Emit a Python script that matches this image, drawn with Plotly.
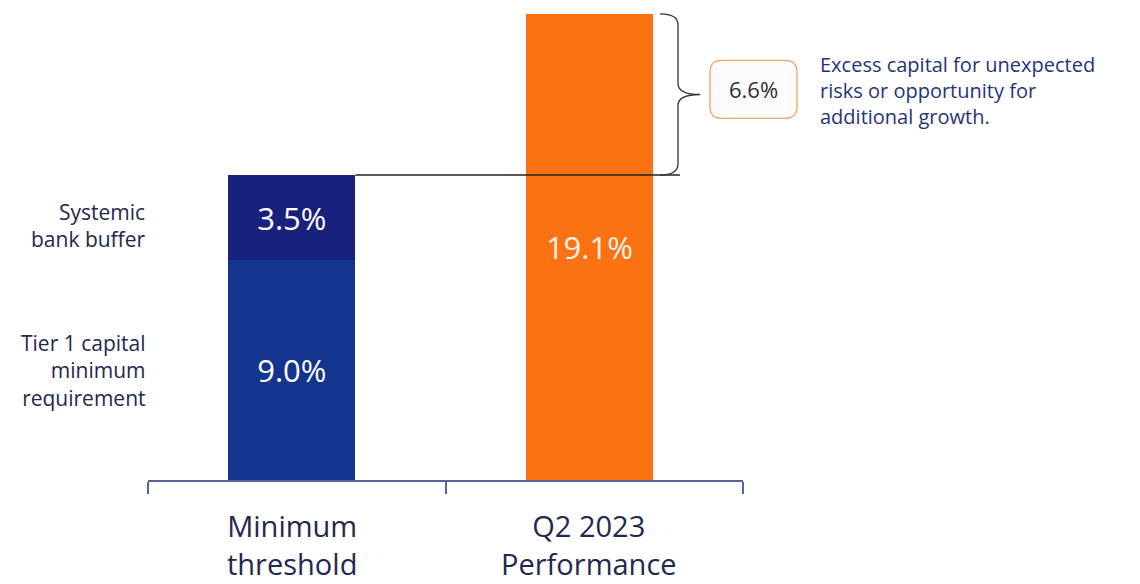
import plotly.graph_objects as go

categories = ["Minimum threshold", "Q2 2023 Performance"]
category_labels = ["Minimum<br>threshold", "Q2 2023<br>Performance"]
tier1_values = [9.0, 0]
buffer_values = [3.5, 0]
performance_values = [0, 19.1]
excess_value = 6.6
left_labels = ["Tier 1 capital<br>minimum<br>requirement", "Systemic<br>bank buffer"]
note_text = "Excess capital for unexpected<br>risks or opportunity for<br>additional growth."

FONT = "Open Sans"
NAVY_TXT = "#23284f"
BW = 0.427
OFF = -0.23
PX = 24.4  # px per % unit (plot height 480)


def px2paper(px):
    return (px - 148) / 595


fig = go.Figure()
for vals, col, tcol in [(tier1_values, "#13348f", "white"),
                        (buffer_values, "#18227c", "white"),
                        (performance_values, "#fa7212", "#fff2e6")]:
    fig.add_bar(x=categories, y=vals, width=BW, offset=OFF,
                marker=dict(color=col, line_width=0),
                text=[f"{v:.1f}%" if v else "" for v in vals], textposition="inside",
                insidetextanchor="middle", textfont=dict(family=FONT, size=31, color=tcol),
                hoverinfo="skip")

threshold = tier1_values[0] + buffer_values[0]
top = performance_values[1]
mid = (threshold + top) / 2

# horizontal line from threshold bar to brace
fig.add_shape(type="line", xref="x", yref="y", x0=OFF + BW, x1=1.288, y0=threshold, y1=threshold,
              line=dict(color="#222222", width=1.3), layer="above")

# curly brace
xa, xb, xc = px2paper(660), px2paper(678), px2paper(700)
r = 0.45
brace = (f"M {xa},{top} Q {xb},{top} {xb},{top - r} L {xb},{mid + r} "
         f"Q {xb},{mid} {xc},{mid} Q {xb},{mid} {xb},{mid - r} "
         f"L {xb},{threshold + r} Q {xb},{threshold} {xa},{threshold}")
fig.add_shape(type="path", xref="paper", yref="y", path=brace,
              line=dict(color="#333333", width=1.3), layer="above")

# rounded box
bx0, bx1 = px2paper(710), px2paper(797)
by1, by0 = mid + 1.4, mid - 0.98
rx, ry = 0.02, 0.49
box = (f"M {bx0 + rx},{by1} L {bx1 - rx},{by1} Q {bx1},{by1} {bx1},{by1 - ry} "
       f"L {bx1},{by0 + ry} Q {bx1},{by0} {bx1 - rx},{by0} L {bx0 + rx},{by0} "
       f"Q {bx0},{by0} {bx0},{by0 + ry} L {bx0},{by1 - ry} Q {bx0},{by1} {bx0 + rx},{by1} Z")
fig.add_shape(type="path", xref="paper", yref="y", path=box,
              line=dict(color="#f3a36a", width=1.3), fillcolor="#fbfbfb", layer="above")

fig.add_annotation(x=(bx0 + bx1) / 2, y=(by0 + by1) / 2, xref="paper", yref="y",
                   xanchor="center", yanchor="middle",
                   text=f"{excess_value:.1f}%", showarrow=False,
                   font=dict(family=FONT, size=22, color="#2b2f3a"))

fig.add_annotation(x=px2paper(818), y=mid + 0.15, xref="paper", yref="y", text=note_text,
                   showarrow=False, xanchor="left", align="left",
                   font=dict(family=FONT, size=20, color="#1f3578"))

# left labels
fig.add_annotation(x=0, y=tier1_values[0] / 2, xref="paper", yref="y", text=left_labels[0],
                   showarrow=False, xanchor="right", align="right",
                   font=dict(family=FONT, size=21, color=NAVY_TXT))
fig.add_annotation(x=0, y=tier1_values[0] + buffer_values[0] / 2 - 0.3, xref="paper", yref="y",
                   text=left_labels[1], showarrow=False, xanchor="right", align="right",
                   font=dict(family=FONT, size=21, color=NAVY_TXT))

# category labels
for cat, lab in zip(categories, category_labels):
    fig.add_annotation(x=cat, y=-0.134, xref="x", yref="paper", text=lab, showarrow=False,
                       xshift=-5, yanchor="middle",
                       font=dict(family=FONT, size=29, color=NAVY_TXT))

fig.update_layout(
    width=1140, height=584, barmode="stack", showlegend=False,
    paper_bgcolor="white", plot_bgcolor="white",
    margin=dict(l=148, r=397, t=0, b=104),
    xaxis=dict(type="category", tickson="boundaries", ticks="outside", ticklen=12,
               tickcolor="#56649a", tickwidth=1.5, showline=True, linecolor="#56649a",
               linewidth=1.5, showgrid=False, range=[-0.5, 1.5], showticklabels=False),
    yaxis=dict(range=[0, 480 / PX], visible=False, showgrid=False),
)

fig.write_html("out.html")
